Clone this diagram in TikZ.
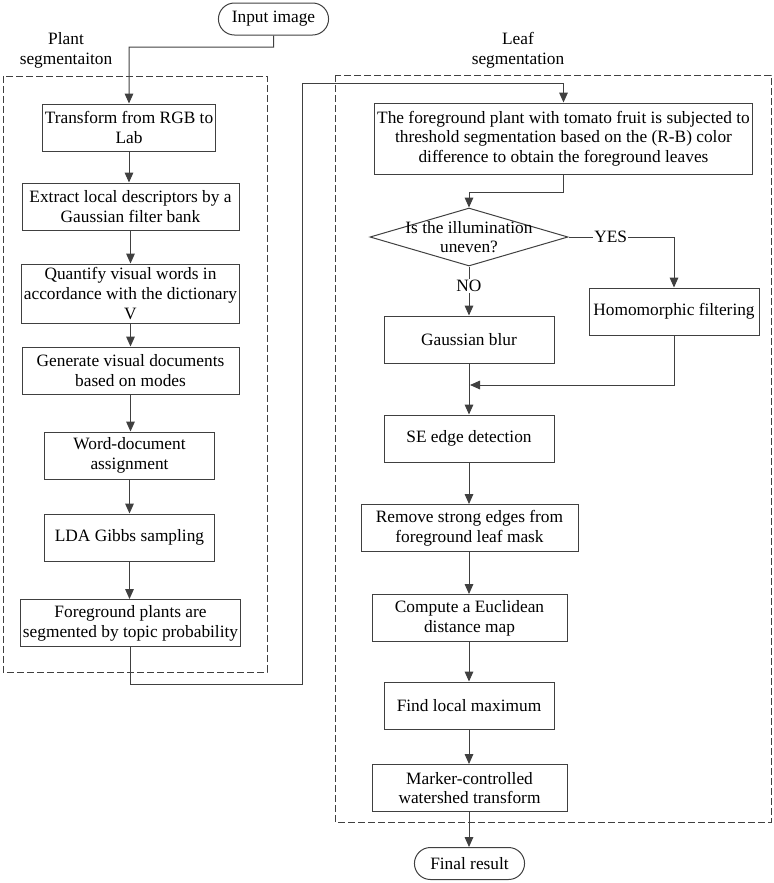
\documentclass[tikz,border=0pt]{standalone}
\usepackage{fontspec}
\setmainfont{Liberation Serif}
\usetikzlibrary{arrows.meta,shapes.geometric,shapes.misc}

\begin{document}
\begin{tikzpicture}[x=0.75pt, y=-0.75pt,
        every node/.style={font=\fontsize{13}{14.8}\selectfont, text=black},
        line/.style={draw=black!75, line width=0.75pt},
        box/.style={line, rectangle, align=center, inner sep=2pt, minimum width=127.5pt, minimum height=35.25pt},
        wide/.style={box, minimum width=162.75pt},
        mid/.style={box, minimum width=146.25pt},
        terminal/.style={line, rounded rectangle, minimum width=89.25pt, minimum height=24pt},
        decision/.style={line, diamond, minimum width=148.5pt, minimum height=43.5pt, inner sep=0pt},
        frame/.style={draw=black!75, line width=0.75pt, dash pattern=on 5pt off 2.5pt},
        >={Triangle[length=7.5pt,width=6.5pt]}]
    \useasboundingbox (0, 0) rectangle (774, 883);

    % left column
    \node[terminal] at (273.5, 19) (input) {Input image};
    \node[align=center] at (66, 50) (plantlab) {Plant\\segmentaiton};
    \draw[frame] (3, 76) rectangle (267, 672);
    \node[box] at (129, 127.5) (rgb) {Transform from RGB to\\Lab};
    \node[wide] at (130.5, 206.5) (extract) {Extract local descriptors by a\\Gaussian filter bank};
    \node[wide, minimum height=44.25pt] at (130.5, 293.5) (quantify) {Quantify visual words in\\accordance with the dictionary\\V};
    \node[wide] at (130.5, 370.5) (generate) {Generate visual documents\\based on modes};
    \node[box] at (129.5, 455.5) (assign) {Word-document\\assignment};
    \node[box] at (129.5, 537.5) (gibbs) {LDA Gibbs sampling};
    \node[wide] at (130.5, 623) (fgplant) {Foreground plants are\\segmented by topic probability};

    % right column
    \node[align=center] at (518, 50) (leaflab) {Leaf\\segmentation};
    \draw[frame] (335, 75) rectangle (771, 822);
    \node[box, minimum width=279.75pt, minimum height=53.25pt] at (563.5, 138.5) (thresh) {The foreground plant with tomato fruit is subjected to\\threshold segmentation based on the (R-B) color\\difference to obtain the foreground leaves};
    \node[decision, label={[align=center]center:Is the illumination\\uneven?}] at (469, 237) (uneven) {};
    \node[box] at (674, 311.5) (homo) {Homomorphic filtering};
    \node[box] at (469, 339.5) (blur) {Gaussian blur};
    \node[box] at (469, 438.5) (edge) {SE edge detection};
    \node[wide] at (469.5, 528) (remove) {Remove strong edges from\\foreground leaf mask};
    \node[mid] at (469.5, 618) (dist) {Compute a Euclidean\\distance map};
    \node[box] at (469, 705.5) (localmax) {Find local maximum};
    \node[mid] at (469.5, 788) (water) {Marker-controlled\\watershed transform};
    \node[terminal] at (469.5, 863.5) (final) {Final result};

    \coordinate (j1) at (302, 684);
    \coordinate (j2) at (302, 83);
    \coordinate (merge) at (470, 385);

    \draw[line, ->] (input) -- ++(0, 28) -| (rgb);
    \draw[line, ->] (rgb) -- (rgb |- extract.north);
    \draw[line, ->] (extract) -- (quantify);
    \draw[line, ->] (quantify) -- (generate);
    \draw[line, ->] (generate) -- (generate |- assign.north);
    \draw[line, ->] (assign) -- (gibbs);
    \draw[line, ->] (gibbs) -- (gibbs |- fgplant.north);
    \draw[line, ->] (fgplant.south) |- (j1) -- (j2) -| (thresh.north);
    \draw[line, ->] (thresh.south) -- ++(0, 18) -| (uneven.north);
    \draw[line, ->] (uneven.east) -| node[pos=0.2, fill=white, inner sep=1pt] {YES} (homo.north);
    \draw[line, ->] (uneven.south) -- node[pos=0.4, fill=white, inner sep=1pt] {NO} (blur.north);
    \draw[line, ->] (homo.south) |- (merge);
    \draw[line, ->] (blur) -- (edge);
    \draw[line, ->] (edge) -- (edge |- remove.north);
    \draw[line, ->] (remove.south -| edge) -- (edge |- dist.north);
    \draw[line, ->] (dist.south -| edge) -- (localmax);
    \draw[line, ->] (localmax) -- (localmax |- water.north);
    \draw[line, ->] (water.south -| localmax) -- (localmax |- final.north);
\end{tikzpicture}
\end{document}
